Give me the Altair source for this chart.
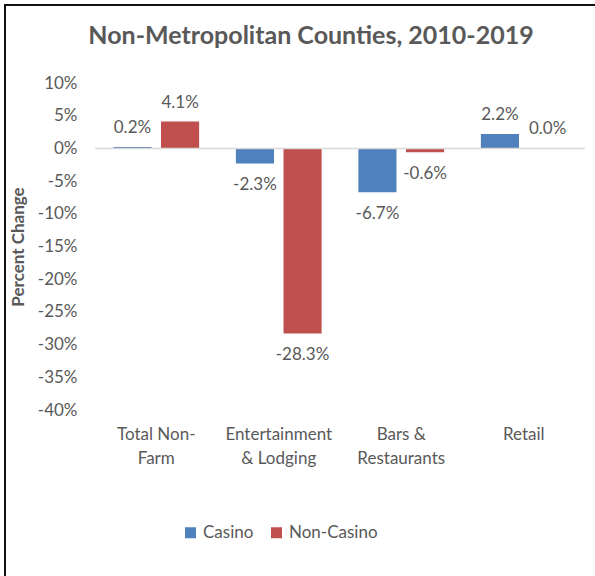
import altair as alt
import pandas as pd

categories = ["Total Non-|Farm", "Entertainment|& Lodging", "Bars &|Restaurants", "Retail"]
series = ["Casino", "Non-Casino"]
casino = [0.2, -2.3, -6.7, 2.2]
non_casino = [4.1, -28.3, -0.6, 0.0]
y_ticks = [10, 5, 0, -5, -10, -15, -20, -25, -30, -35, -40]
colors = ["#4F81BD", "#C0504D"]

rows = []
for c, a, b in zip(categories, casino, non_casino):
    rows.append({"category": c, "series": "Casino", "value": a, "label": f"{a:.1f}%"})
    rows.append({"category": c, "series": "Non-Casino", "value": b, "label": f"{b:.1f}%"})
df = pd.DataFrame(rows)

grey = "#595959"
FONT = "Lato"
FS = 17

x_axis = alt.Axis(title=None, labelExpr="split(datum.label, '|')",
                  labelAngle=0, labelFontSize=FS, labelColor=grey,
                  labelPadding=16, labelLineHeight=24, ticks=False,
                  domain=False, labelFont=FONT, labelOverlap=False)
y_axis = alt.Axis(values=y_ticks, labelExpr="datum.value + '%'", grid=False,
                  ticks=False, domain=False, labelFontSize=FS, labelColor=grey,
                  labelPadding=18, labelOverlap=False, labelBound=False,
                  title="Percent Change", titleFontSize=FS,
                  titleFontWeight="bold", titleColor=grey, titleX=-77,
                  titleBaseline="middle", titleFont=FONT, labelFont=FONT)
x_scale = alt.Scale(paddingInner=0.3, paddingOuter=0.15)
y_scale = alt.Scale(domain=[-40, 10], nice=False, zero=False)

x_enc = alt.X("category:N", sort=categories, scale=x_scale, axis=x_axis)
y_enc = alt.Y("value:Q", scale=y_scale, axis=y_axis)
xoff = alt.XOffset("series:N", sort=series, scale=alt.Scale(paddingInner=0.2, paddingOuter=0))

base = alt.Chart(df)

bars = base.mark_bar().encode(
    x=x_enc,
    xOffset=xoff,
    y=y_enc,
    color=alt.Color("series:N", sort=series, scale=alt.Scale(domain=series, range=colors),
                    legend=alt.Legend(title=None, orient="none", direction="horizontal",
                                      legendX=87, legendY=441, symbolType="square",
                                      symbolSize=121, symbolStrokeWidth=0,
                                      labelFontSize=FS, labelColor=grey, labelFont=FONT,
                                      columnPadding=14, labelOffset=4)),
)

zero = alt.Chart(pd.DataFrame({"value": [0]})).mark_rule(color="#d9d9d9", strokeWidth=1.5).encode(
    y=y_enc
)

pos_text = base.transform_filter("datum.value >= 0").mark_text(
    fontSize=FS, color=grey, baseline="middle", dy=-19, font=FONT
).encode(x=x_enc, xOffset=xoff, y=y_enc, text="label:N")

neg_text = base.transform_filter("datum.value < 0").mark_text(
    fontSize=FS, color=grey, baseline="middle", dy=22, font=FONT
).encode(x=x_enc, xOffset=xoff, y=y_enc, text="label:N")

frame_df = pd.DataFrame({"f": [0]})
left_border = alt.Chart(frame_df).mark_rule(color="#111111", strokeWidth=2).encode(
    x=alt.value(-90), y=alt.value(-78), y2=alt.value(500))
top_border = alt.Chart(frame_df).mark_rule(color="#111111", strokeWidth=2).encode(
    y=alt.value(-78), x=alt.value(-91), x2=alt.value(520))

chart = alt.layer(bars, zero, pos_text, neg_text, left_border, top_border).properties(
    width=490, height=327,
    autosize=alt.AutoSizeParams(type="none"),
    padding={"left": 95, "top": 83, "right": 10, "bottom": 166},
    title=alt.Title("Non-Metropolitan Counties, 2010-2019", fontSize=25, fontWeight="bold",
                    color=grey, anchor="middle", dx=-29, font=FONT, offset=-45),
).configure(font=FONT).configure_view(strokeWidth=0, stroke="transparent")

chart.save("out.html", embed_options={"renderer": "svg", "actions": False})
